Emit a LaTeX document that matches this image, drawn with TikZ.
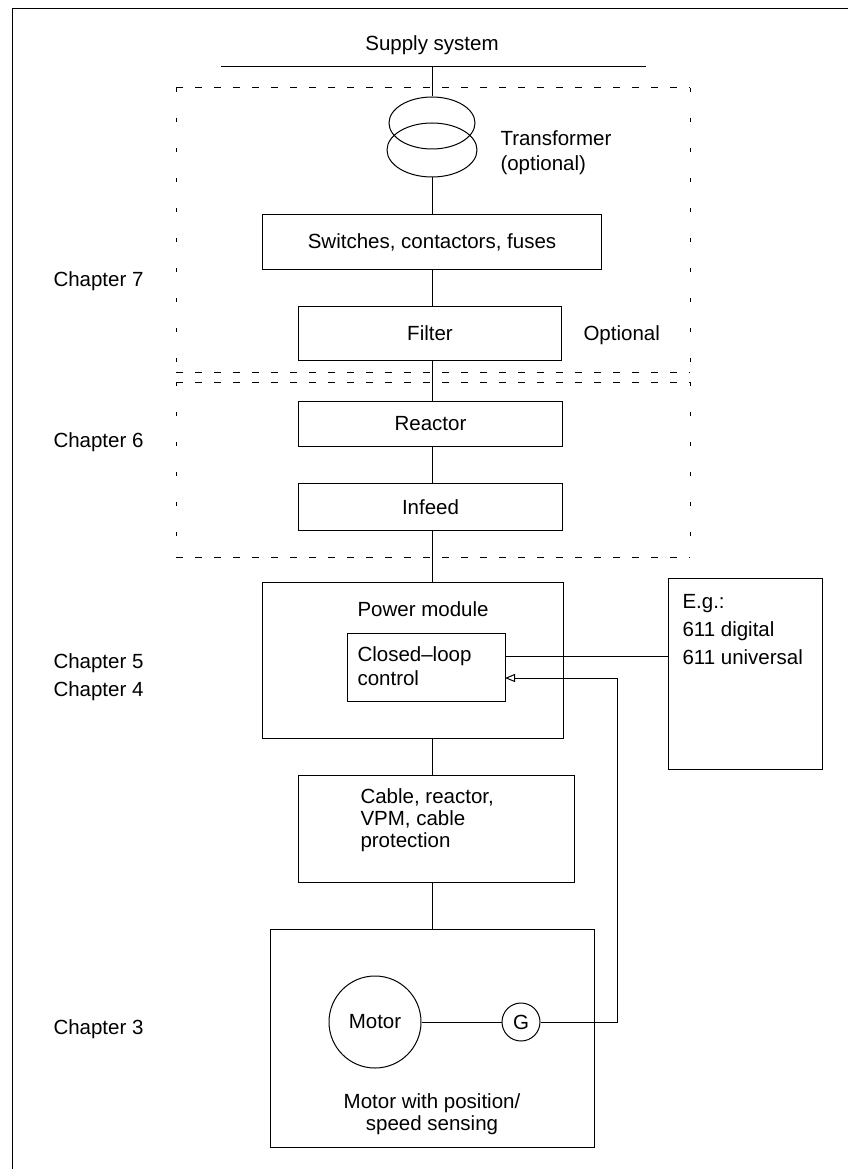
\documentclass[tikz,border=0pt]{standalone}
\usepackage{fontspec}
\setmainfont{Liberation Sans}
\usetikzlibrary{arrows.meta,shapes.geometric,calc}
\begin{document}
\begin{tikzpicture}[x=1pt,y=-1pt,line width=1pt,
  every node/.style={font=\fontsize{20.5}{25}\selectfont},
  box/.style={draw,rectangle,inner sep=0pt,anchor=north west},
  lbl/.style={inner sep=0pt,anchor=base west,align=left},
  clbl/.style={inner sep=0pt,anchor=base,align=center},
  hdash/.style={dash pattern=on 7pt off 12pt},
  vdash/.style={dash pattern=on 4pt off 26pt},
  fb/.style={-{Triangle[open,length=10pt,width=8pt,line width=1pt]}}]
\useasboundingbox (0,0) rectangle (848,1169);
% outer frame
\coordinate (fA) at (12,1169);
\coordinate (fB) at (12,9);
\coordinate (fC) at (848,9);
\draw (fA) -- (fB) -- (fC);
% supply
\node[clbl] (sup) at (432,50.5) {Supply system};
\coordinate (sL) at (221,67);
\coordinate (sR) at (646,67);
\coordinate (sM) at (432,67);
\draw (sL) -- (sR);
% dashed regions
\coordinate (d1a) at (176,88);
\coordinate (d1b) at (690,88);
\coordinate (d1c) at (690,372);
\coordinate (d1d) at (176,372);
\draw[hdash] (d1a) -- (d1b);
\draw[hdash] (d1d) -- (d1c);
\draw[vdash] (d1a) -- (d1d);
\draw[vdash] (d1b) -- (d1c);
\coordinate (d2a) at (176,382);
\coordinate (d2b) at (690,382);
\coordinate (d2c) at (690,557);
\coordinate (d2d) at (176,557);
\draw[hdash] (d2a) -- (d2b);
\draw[hdash] (d2d) -- (d2c);
\draw[vdash] (d2a) -- (d2d);
\draw[vdash] (d2b) -- (d2c);
% transformer
\node[draw,ellipse,inner sep=0pt,minimum width=86pt,minimum height=52pt] (t1) at (432,123) {};
\node[draw,ellipse,inner sep=0pt,minimum width=90pt,minimum height=54pt] (t2) at (432,150) {};
\node[lbl] (tlab) at (500,170.5) {Transformer\\(optional)};
% boxes
\node[box,minimum width=339pt,minimum height=55pt] (sw) at (262,214) {Switches, contactors, fuses};
\node[box,minimum width=263pt,minimum height=54pt] (fil) at (298,306) {Filter};
\node[lbl] (opt) at (583,340.5) {Optional};
\node[box,minimum width=264pt,minimum height=45pt] (rea) at (298,401) {Reactor};
\node[box,minimum width=264pt,minimum height=47pt] (inf) at (298,483) {Infeed};
\node[box,minimum width=301pt,minimum height=156pt] (pm) at (262,582) {};
\node[lbl] (pmlab) at (357,616.5) {Power module};
\node[box,minimum width=158pt,minimum height=68pt] (cl) at (347,633) {};
\node[lbl,font=\fontsize{20.5}{24}\selectfont] (cllab) at (357,685.5) {Closed--loop\\control};
\node[box,minimum width=154pt,minimum height=191pt] (eg) at (668,578) {};
\node[lbl,font=\fontsize{20.5}{28}\selectfont] (eglab) at (682,664.5) {E.g.:\\611 digital\\611 universal};
\node[box,minimum width=276pt,minimum height=107pt] (cab) at (298,775) {};
\node[lbl,font=\fontsize{20.5}{22}\selectfont] (cablab) at (360,847.5) {Cable, reactor,\\VPM, cable\\protection};
\node[box,minimum width=324pt,minimum height=218pt] (mb) at (270,929) {};
\node[draw,circle,inner sep=0pt,minimum size=92pt] (mot) at (375,1022) {Motor};
\node[draw,circle,inner sep=0pt,minimum size=38pt] (G) at (521,1022) {G};
\node[clbl,font=\fontsize{20.5}{22}\selectfont] (mblab) at (432,1130.5) {Motor with position/\\speed sensing};
% chapters
\node[lbl] (c7) at (53,286.5) {Chapter 7};
\node[lbl] (c6) at (53,447.5) {Chapter 6};
\node[lbl] (c5) at (53,668.5) {Chapter 5};
\node[lbl] (c4) at (53,696.5) {Chapter 4};
\node[lbl] (c3) at (53,1034.5) {Chapter 3};
% connectors (vertical spine at x of the supply tap)
\draw (sM) -- (t1.north);
\draw (t2.south) -- (sw.north -| t2.south);
\draw (sw.south -| sM) -- (fil.north -| sM);
\draw (fil.south -| sM) -- (rea.north -| sM);
\draw (rea.south -| sM) -- (inf.north -| sM);
\draw (inf.south -| sM) -- (pm.north -| sM);
\draw (pm.south -| sM) -- (cab.north -| sM);
\draw (cab.south -| sM) -- (mb.north -| sM);
\draw (mot) -- (G);
\coordinate (clo) at (505,656);
\coordinate (egi) at (clo -| eg.west);
\draw (clo) -- (egi);
\coordinate (fbt) at (617,678);
\coordinate (cli) at (505,678);
\draw[fb] (G.east) -| (fbt) -- (cli);
\end{tikzpicture}
\end{document}
